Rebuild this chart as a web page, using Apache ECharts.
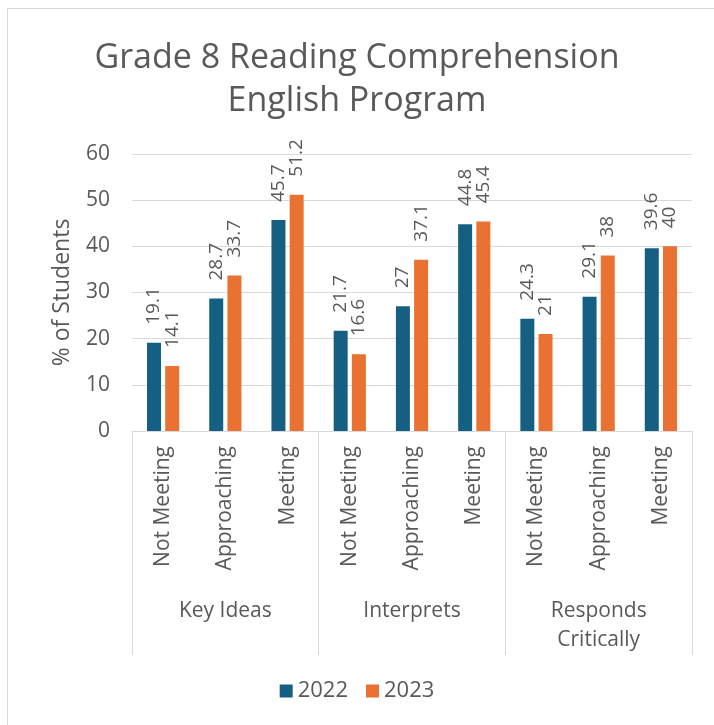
<!DOCTYPE html>
<html>
<head>
<meta charset="utf-8">
<script src="https://cdn.jsdelivr.net/npm/echarts@6/dist/echarts.min.js"></script>
<style>
  html, body { margin: 0; padding: 0; background: #fff; }
  #frame { position: absolute; left: 7px; top: 8px; width: 720px; height: 730px; border: 1px solid #d9d9d9; box-sizing: border-box; }
  #chart { position: absolute; left: 0; top: 0; width: 714px; height: 725px; }
</style>
</head>
<body>
<div id="frame"></div>
<div id="chart"></div>
<script>
// categories (inner level) and groups (outer level)
const levels = ['Not Meeting', 'Approaching', 'Meeting', 'Not Meeting', 'Approaching', 'Meeting', 'Not Meeting', 'Approaching', 'Meeting'];
const groups = ['Key Ideas', 'Interprets', 'Responds\nCritically'];
const values2022 = [19.1, 28.7, 45.7, 21.7, 27, 44.8, 24.3, 29.1, 39.6];
const values2023 = [14.1, 33.7, 51.2, 16.6, 37.1, 45.4, 21, 38, 40];
const yTicks = [0, 10, 20, 30, 40, 50, 60];

const FONT = '"Open Sans"';
const GREY = '#595959';
const LINE = '#d9d9d9';

const chart = echarts.init(document.getElementById('chart'));

const labelStyle = {
    show: true,
    position: 'top',
    rotate: 90,
    align: 'left',
    verticalAlign: 'middle',
    distance: 18,
    color: GREY,
    fontFamily: FONT,
    fontSize: 19
};

const option = {
    animation: false,
    title: {
        text: 'Grade 8 Reading Comprehension\nEnglish Program',
        left: 'center',
        top: 32,
        textStyle: { color: GREY, fontFamily: FONT, fontSize: 34, fontWeight: 'normal', lineHeight: 43 }
    },
    legend: {
        bottom: 18,
        left: 'center',
        itemWidth: 13,
        itemHeight: 13,
        itemGap: 18,
        icon: 'rect',
        textStyle: { color: GREY, fontFamily: FONT, fontSize: 22 },
        data: ['2022', '2023']
    },
    grid: { left: 132, right: 22, top: 154, bottom: 294 },
    xAxis: [
        {
            type: 'category',
            data: levels,
            axisLine: { lineStyle: { color: LINE } },
            axisTick: { show: false },
            axisLabel: { rotate: 90, margin: 15, color: GREY, fontFamily: FONT, fontSize: 21, interval: 0 }
        },
        {
            type: 'category',
            data: groups,
            position: 'bottom',
            axisLine: { show: false },
            axisTick: { show: true, length: 224, lineStyle: { color: LINE } },
            axisLabel: { margin: 166, color: GREY, fontFamily: FONT, fontSize: 21, lineHeight: 29, interval: 0 }
        }
    ],
    yAxis: {
        type: 'value',
        min: yTicks[0],
        max: yTicks[yTicks.length - 1],
        interval: 10,
        name: '% of Students',
        nameLocation: 'middle',
        nameGap: 58,
        nameTextStyle: { color: GREY, fontFamily: FONT, fontSize: 23 },
        axisLine: { show: false },
        axisTick: { show: false },
        axisLabel: { margin: 22, color: GREY, fontFamily: FONT, fontSize: 21 },
        splitLine: { lineStyle: { color: LINE } }
    },
    series: [
        {
            name: '2022',
            type: 'bar',
            data: values2022,
            barWidth: 14,
            barGap: '30%',
            itemStyle: { color: '#156082' },
            label: labelStyle
        },
        {
            name: '2023',
            type: 'bar',
            data: values2023,
            barWidth: 14,
            barGap: '30%',
            itemStyle: { color: '#E97132' },
            label: labelStyle
        }
    ]
};

chart.setOption(option);
</script>
</body>
</html>
